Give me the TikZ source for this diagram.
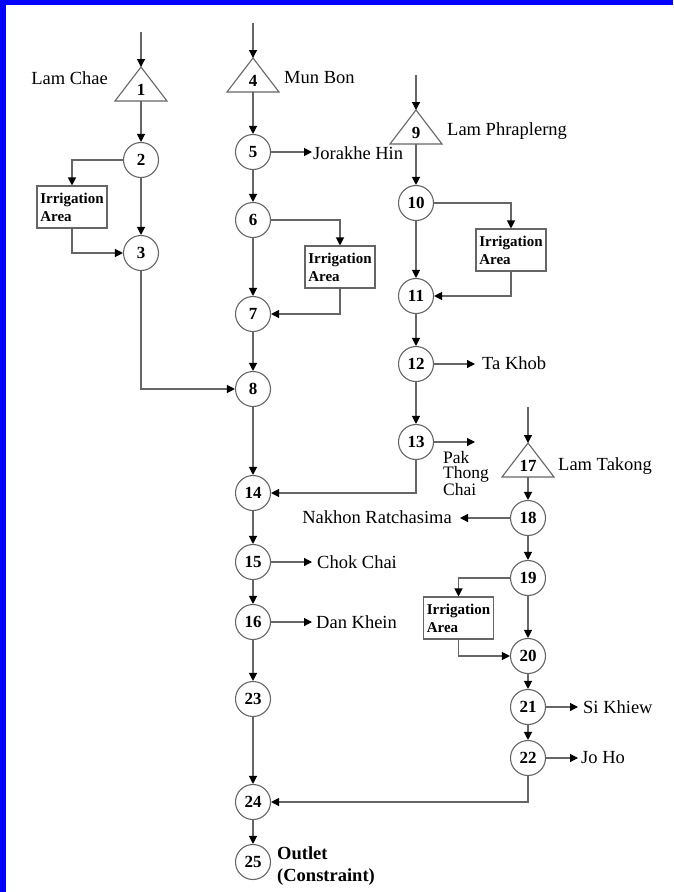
\documentclass[tikz,border=0pt]{standalone}
\usepackage{fontspec}
\setmainfont{Liberation Serif}
\usetikzlibrary{arrows.meta}
\definecolor{lc}{HTML}{666666}
\definecolor{bord}{HTML}{0000FF}
\tikzset{
  circ/.style={circle, draw=lc, line width=1.1pt, minimum size=35pt, inner sep=0pt, fill=white,
    font=\fontsize{17}{17}\selectfont\bfseries},
  irr/.style={draw=lc, line width=1.1pt, minimum width=70pt, minimum height=42pt, inner sep=3pt,
    align=left, font=\fontsize{15}{18}\selectfont\bfseries},
  lbl/.style={inner sep=0pt, font=\fontsize{18.5}{20}\selectfont},
  flow/.style={draw=lc, line width=1.2pt, -{Triangle[length=8pt,width=8pt,color=black]}},
  tri/.style={draw=lc, line width=1.1pt},
  tnum/.style={inner sep=0pt, font=\fontsize{17}{17}\selectfont\bfseries},
}
\newcommand{\mytri}[4]{%
  \coordinate (#1a) at (#2,#3);
  \coordinate (#1b) at (#2,#3+34);
  \draw[tri] (#2,#3) -- (#2+26,#3+34) -- (#2-26,#3+34) -- cycle;
  \node[tnum] (#1) at (#2,#3+23) {#4};
}
\begin{document}
\begin{tikzpicture}[x=1pt,y=-1pt]
\useasboundingbox (0,0) rectangle (673,892);
\fill[white] (0,0) rectangle (673,892);
\fill[bord] (0,0) rectangle (673,5);
\fill[bord] (0,0) rectangle (6,892);

% triangles (reservoirs)
\mytri{t1}{141}{67}{1}
\mytri{t4}{253}{58}{4}
\mytri{t9}{416}{110}{9}
\mytri{t17}{528}{443}{17}

% inflow coordinates
\coordinate (in1) at (141,32);
\coordinate (in4) at (253,23);
\coordinate (in9) at (416,75);
\coordinate (in17) at (528,407);

% circles
\node[circ] (c2) at (141,160) {2};
\node[circ] (c3) at (141,253) {3};
\node[circ] (c5) at (253,152) {5};
\node[circ] (c6) at (253,220) {6};
\node[circ] (c7) at (253,314) {7};
\node[circ] (c8) at (253,389) {8};
\node[circ] (c14) at (253,493) {14};
\node[circ] (c15) at (253,562) {15};
\node[circ] (c16) at (253,622) {16};
\node[circ] (c23) at (253,699) {23};
\node[circ] (c24) at (253,802) {24};
\node[circ] (c25) at (253,862) {25};
\node[circ] (c10) at (416,203) {10};
\node[circ] (c11) at (416,296) {11};
\node[circ] (c12) at (416,364) {12};
\node[circ] (c13) at (416,442) {13};
\node[circ] (c18) at (528,518) {18};
\node[circ] (c19) at (528,578) {19};
\node[circ] (c20) at (528,656) {20};
\node[circ] (c21) at (528,707) {21};
\node[circ] (c22) at (528,758) {22};

% irrigation boxes
\node[irr] (boxA) at (72,207) {Irrigation\\Area};
\node[irr] (boxB) at (340,267) {Irrigation\\Area};
\node[irr] (boxC) at (511,250) {Irrigation\\Area};
\node[irr] (boxD) at (458.5,618) {Irrigation\\Area};

% labels
\node[lbl, anchor=east] (lamchae) at (108,78) {Lam Chae};
\node[lbl, anchor=west] (munbon) at (284,78) {Mun Bon};
\node[lbl, anchor=west] (jorakhe) at (313,153) {Jorakhe Hin};
\node[lbl, anchor=west] (lamphr) at (447,131) {Lam Phraplerng};
\node[lbl, anchor=west] (takhob) at (482,363) {Ta Khob};
\node[lbl, anchor=north west, align=left, font=\fontsize{17.5}{15}\selectfont] (pak) at (443,451) {Pak\\Thong\\Chai};
\node[lbl, anchor=west] (lamtak) at (558,466) {Lam Takong};
\node[lbl, anchor=east] (nakhon) at (452,517) {Nakhon Ratchasima};
\node[lbl, anchor=west] (chok) at (317,562) {Chok Chai};
\node[lbl, anchor=west] (dan) at (316,622) {Dan Khein};
\node[lbl, anchor=west] (sik) at (583,707) {Si Khiew};
\node[lbl, anchor=west] (joho) at (581,758) {Jo Ho};
\node[lbl, anchor=north west, align=left, font=\fontsize{18.5}{22}\selectfont\bfseries] (outlet) at (277,846) {Outlet\\(Constraint)};

% outflow end coordinates
\coordinate (o5) at (312,152);
\coordinate (o12) at (475,364);
\coordinate (o13) at (475,442);
\coordinate (o15) at (312,562);
\coordinate (o16) at (312,622);
\coordinate (o18) at (460,518);
\coordinate (o21) at (578,707);
\coordinate (o22) at (578,758);

% inflows
\draw[flow] (in1) -- (t1a);
\draw[flow] (in4) -- (t4a);
\draw[flow] (in9) -- (t9a);
\draw[flow] (in17) -- (t17a);

% column A
\draw[flow] (t1b) -- (c2);
\draw[flow] (c2) -- (c3);
\draw[flow] (c2.west) -| (boxA.north);
\draw[flow] (boxA.south) |- (c3.west);
\draw[flow] (c3.south) |- (c8.west);

% column B
\draw[flow] (t4b) -- (c5);
\draw[flow] (c5) -- (o5);
\draw[flow] (c5) -- (c6);
\draw[flow] (c6) -- (c7);
\draw[flow] (c6.east) -| (boxB.north);
\draw[flow] (boxB.south) |- (c7.east);
\draw[flow] (c7) -- (c8);
\draw[flow] (c8) -- (c14);
\draw[flow] (c14) -- (c15);
\draw[flow] (c15) -- (o15);
\draw[flow] (c15) -- (c16);
\draw[flow] (c16) -- (o16);
\draw[flow] (c16) -- (c23);
\draw[flow] (c23) -- (c24);
\draw[flow] (c24) -- (c25);

% column C
\draw[flow] (t9b) -- (c10);
\draw[flow] (c10) -- (c11);
\draw[flow] (c10.east) -| (boxC.north);
\draw[flow] (boxC.south) |- (c11.east);
\draw[flow] (c11) -- (c12);
\draw[flow] (c12) -- (o12);
\draw[flow] (c12) -- (c13);
\draw[flow] (c13) -- (o13);
\draw[flow] (c13.south) |- (c14.east);

% column D
\draw[flow] (t17b) -- (c18);
\draw[flow] (c18) -- (o18);
\draw[flow] (c18) -- (c19);
\draw[flow] (c19) -- (c20);
\draw[flow] (c19.west) -| (boxD.north);
\draw[flow] (boxD.south) |- (c20.west);
\draw[flow] (c20) -- (c21);
\draw[flow] (c21) -- (o21);
\draw[flow] (c21) -- (c22);
\draw[flow] (c22) -- (o22);
\draw[flow] (c22.south) |- (c24.east);
\end{tikzpicture}
\end{document}
